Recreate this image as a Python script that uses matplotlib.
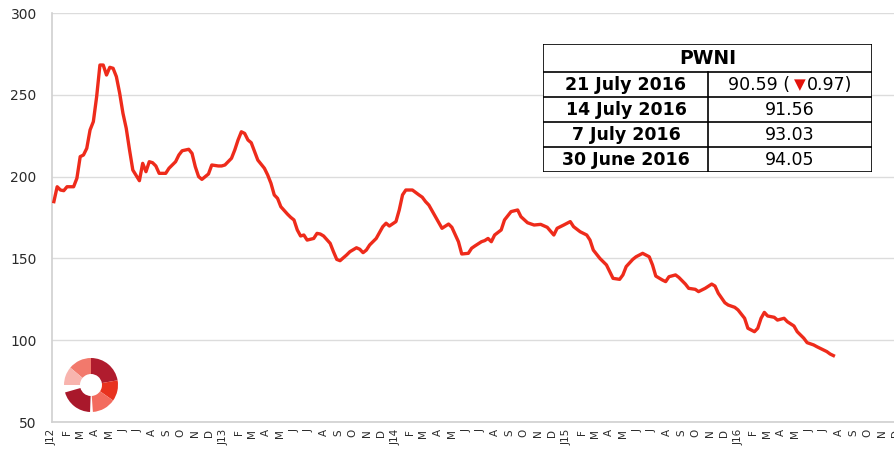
import numpy as np
import pandas as pd
import matplotlib
matplotlib.use("Agg")
import matplotlib.pyplot as plt
from matplotlib.patches import Wedge, Rectangle

# weekly PWNI readings, week 0 = 5 Jan 2012
weeks = [0, 1, 2, 3, 4, 6, 7, 8, 9, 10, 11, 12, 13, 14, 15, 16, 17, 18, 19, 20,
         21, 22, 23, 24, 26, 27, 28, 29, 30, 31, 32, 34, 35, 37, 38, 39, 41, 42, 43, 44,
         45, 47, 48, 50, 51, 52, 54, 55, 56, 57, 58, 59, 60, 62, 64, 65, 66, 67, 68, 69,
         71, 72, 73, 74, 75, 76, 77, 79, 80, 81, 82, 84, 85, 86, 87, 89, 90, 92, 93, 94,
         95, 96, 98, 100, 101, 102, 104, 105, 106, 107, 109, 111, 112, 113, 114, 115, 116, 118, 120, 121,
         123, 124, 126, 127, 128, 130, 131, 132, 133, 134, 136, 137, 139, 141, 142, 144, 146, 148, 150, 152,
         153, 155, 157, 158, 160, 162, 163, 164, 166, 168, 169, 170, 172, 173, 174, 176, 177, 179, 181, 182,
         183, 185, 186, 187, 189, 190, 192, 193, 195, 196, 198, 200, 201, 202, 204, 205, 207, 208, 210, 211,
         213, 214, 215, 216, 217, 219, 220, 222, 223, 225, 226, 228, 229, 231, 232, 234, 235, 236, 237]
pwni = [184.7, 193.8, 191.8, 191.4, 193.8, 193.8, 199.0, 212.2, 213.2, 217.3, 228.5, 233.6, 248.8, 268.2, 268.2, 262.1, 266.8, 266.2, 261.1, 251.0,
        238.7, 229.5, 216.3, 204.0, 197.5, 208.1, 203.0, 209.1, 208.5, 206.5, 202.0, 202.0, 205.1, 209.1, 213.2, 215.8, 216.7, 214.2, 206.0, 200.0,
        198.3, 201.6, 207.1, 206.5, 206.5, 207.1, 211.2, 216.3, 222.4, 227.4, 226.4, 222.4, 220.7, 210.1, 205.1, 201.0, 195.9, 188.8, 186.7, 181.6,
        177.1, 175.1, 173.5, 167.4, 163.7, 164.3, 161.2, 162.2, 165.3, 164.9, 163.7, 159.2, 154.1, 149.4, 148.6, 152.1, 154.1, 156.5, 155.6, 153.5,
        155.1, 158.2, 162.2, 169.4, 171.5, 169.8, 172.5, 179.6, 188.8, 191.8, 191.8, 188.8, 187.4, 184.7, 182.6, 179.0, 175.5, 168.4, 171.0, 169.0,
        160.2, 152.7, 153.1, 156.2, 157.6, 160.2, 160.9, 162.2, 160.2, 164.3, 167.4, 173.5, 178.6, 179.6, 175.5, 171.8, 170.4, 170.8, 169.0, 164.3,
        168.4, 170.4, 172.5, 169.4, 166.3, 164.3, 161.2, 155.1, 150.0, 146.0, 141.9, 137.8, 137.2, 139.9, 145.0, 149.4, 151.0, 153.1, 151.0, 146.0,
        139.2, 136.8, 135.8, 138.8, 139.9, 138.4, 134.3, 131.7, 131.1, 129.7, 131.7, 134.3, 133.1, 128.7, 122.9, 121.5, 120.1, 118.5, 113.4, 107.3,
        105.2, 107.3, 113.4, 117.0, 114.8, 114.0, 112.3, 113.4, 111.3, 108.7, 105.2, 101.2, 98.5, 97.1, 96.0, 94.05, 93.03, 91.56, 90.59]

month_letters = ["J", "F", "M", "A", "M", "J", "J", "A", "S", "O", "N", "D"]
years = [2012, 2013, 2014, 2015, 2016]

table_dates = ["21 July 2016", "14 July 2016", "7 July 2016", "30 June 2016"]
table_values = ["90.59", "91.56", "93.03", "94.05"]
change = "0.97"

dates = pd.Timestamp("2012-01-05") + pd.to_timedelta(np.array(weeks) * 7, unit="D")

fig = plt.figure(figsize=(8.95, 4.5), dpi=100)
ax = fig.add_axes([52 / 895, 28 / 450, 858 / 895, 409 / 450])

ax.plot(dates, pwni, color="#ee2b1b", lw=2.4, solid_joinstyle="round", zorder=3)

ax.set_ylim(50, 300)
ax.set_yticks(range(50, 301, 50))
ax.set_xlim(pd.Timestamp("2012-01-05"), pd.Timestamp("2016-12-31"))

tick_pos = []
tick_lab = []
for y in years:
    for m in range(12):
        tick_pos.append(pd.Timestamp(year=y, month=m + 1, day=1))
        if m == 0:
            tick_lab.append("J" + str(y)[2:])
        else:
            tick_lab.append(month_letters[m])
ax.set_xticks(tick_pos)
ax.set_xticklabels(tick_lab, rotation=90, fontsize=7.5, color="#2a2a2a")
ax.tick_params(axis="x", length=0, pad=5)
ax.tick_params(axis="y", length=0, pad=11, labelsize=10, labelcolor="#2a2a2a")

ax.grid(axis="y", color="#dcdcdc", lw=1)
for s in ["top", "right"]:
    ax.spines[s].set_visible(False)
for s in ["left", "bottom"]:
    ax.spines[s].set_color("#d0d0d0")
    ax.spines[s].set_linewidth(1.2)

# table in the top right
tx = fig.add_axes([543 / 895, (450 - 172) / 450, 329 / 895, 128 / 450])
tx.set_xlim(0, 329)
tx.set_ylim(128, 0)
tx.axis("off")
tx.add_patch(Rectangle((0, 0), 329, 128, facecolor="white", edgecolor="black", lw=1.2))
tx.plot([0, 329], [28, 28], color="black", lw=1.2)
for i in range(1, 4):
    tx.plot([0, 329], [28 + 25 * i, 28 + 25 * i], color="black", lw=1.2)
tx.plot([165, 165], [28, 128], color="black", lw=1.2)
tx.text(164.5, 14.5, "PWNI", ha="center", va="center", fontsize=13.5, fontweight="bold")
for i in range(4):
    yc = 28 + 25 * i + 13
    tx.text(83, yc, table_dates[i], ha="center", va="center", fontsize=12.5, fontweight="bold")
    if i == 0:
        tx.text(247, yc, table_values[i] + " (", ha="right", va="center", fontsize=12.5)
        tx.text(256.5, yc, "\u25bc", ha="center", va="center", fontsize=11, color="#e3120b")
        tx.text(264, yc, change + ")", ha="left", va="center", fontsize=12.5)
    else:
        tx.text(247, yc, table_values[i], ha="center", va="center", fontsize=12.5)

# logo
lx = fig.add_axes([60 / 895, 32 / 450, 62 / 895, 66 / 450])
lx.set_xlim(60, 122)
lx.set_ylim(32, 98)
lx.set_aspect("equal")
lx.axis("off")
c = (91, 65)
pieces = [(10, 90, "#b01c2e"), (90, 140, "#f2796c"), (140, 180, "#f8b4ae"),
          (-35, 10, "#e8321f"), (-86, -35, "#f36b5e"), (196, 268, "#a9182b")]
for t1, t2, col in pieces:
    lx.add_patch(Wedge(c, 27, t1, t2, width=16, facecolor=col, edgecolor="none"))

fig.savefig("out.png", dpi=100)
